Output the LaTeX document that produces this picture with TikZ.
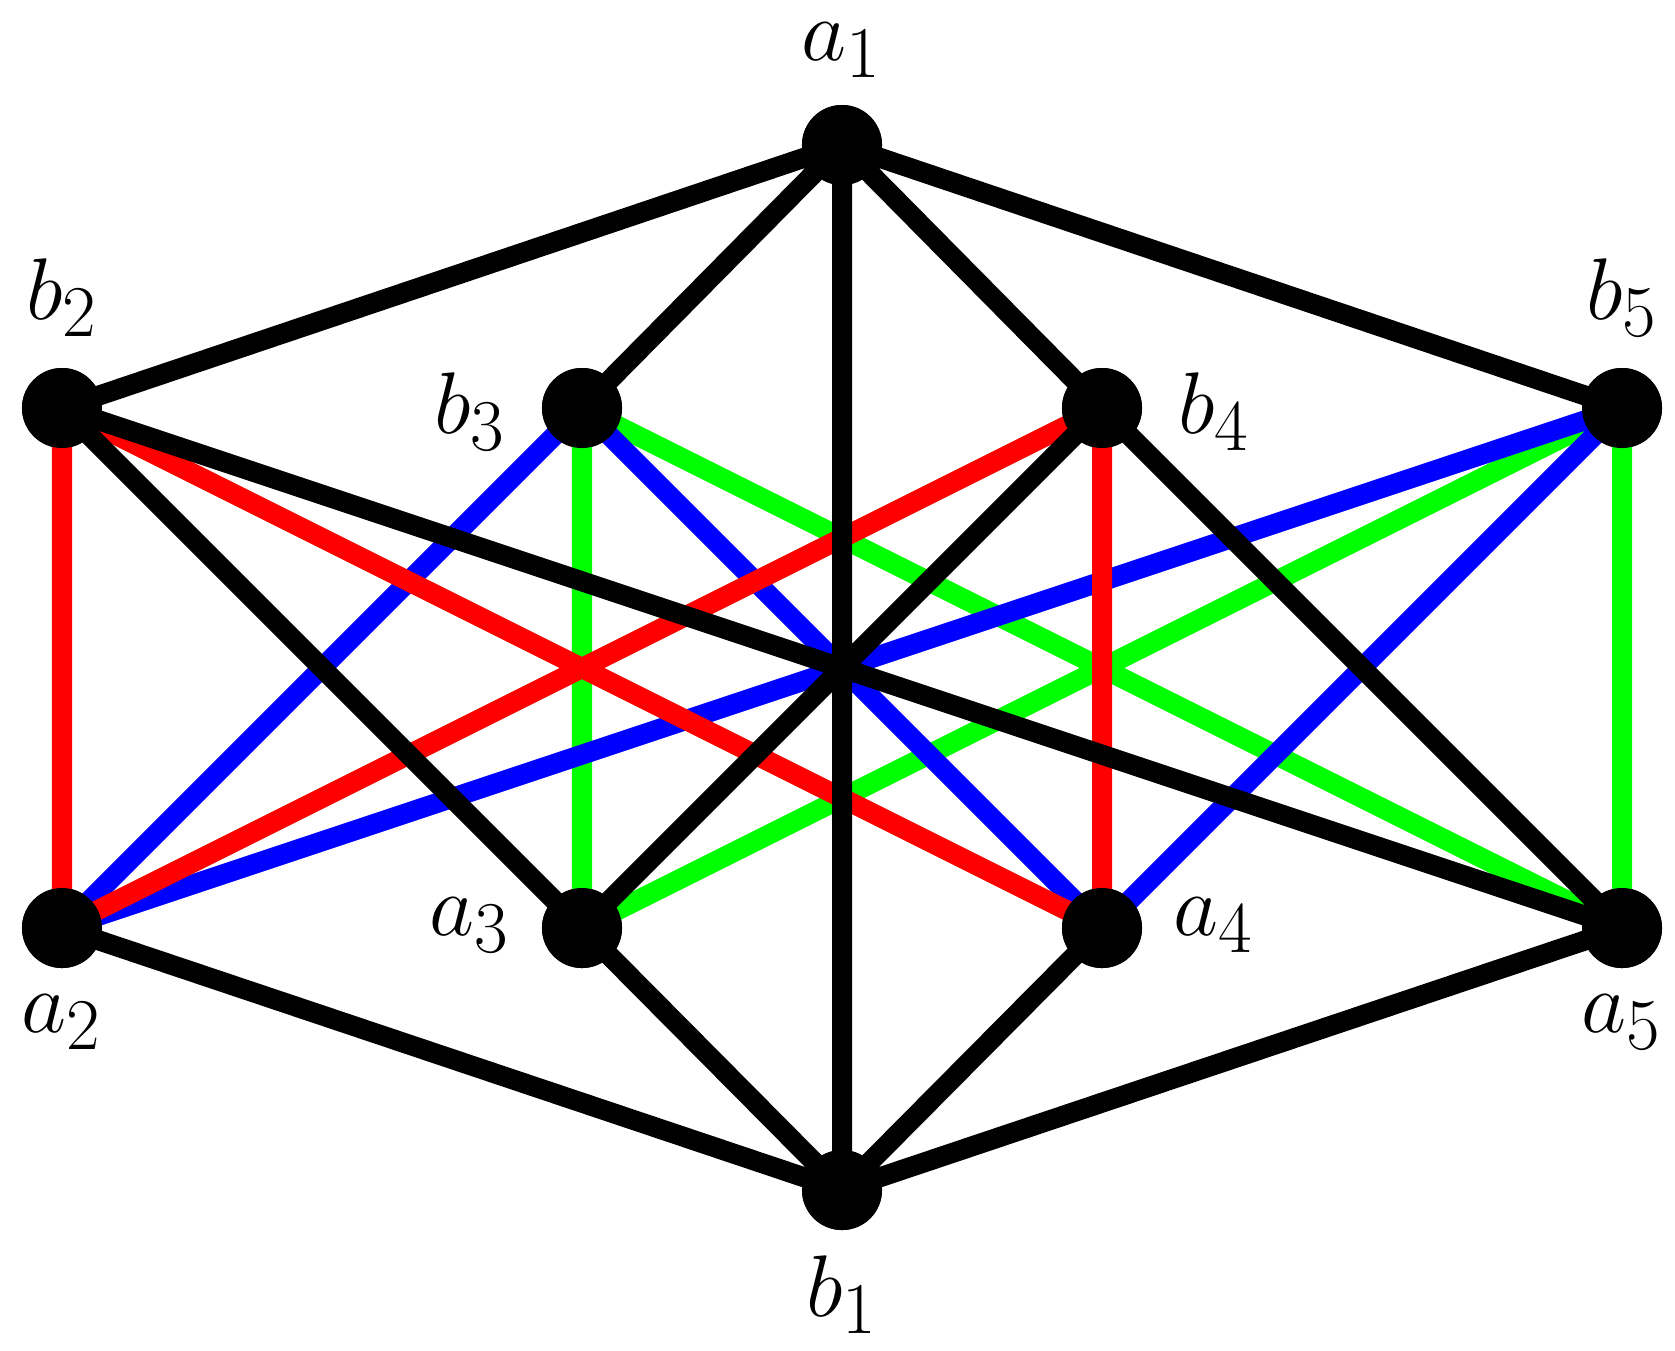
\documentclass[tikz,border=0pt]{standalone}
\begin{document}
\begin{tikzpicture}[x=0.01cm,y=-0.01cm,
  vtx/.style={circle,fill=black,minimum size=0.8cm,inner sep=0pt},
  lbl/.style={font=\fontsize{30}{36}\selectfont},
  edge/.style={line width=0.2cm}]
\useasboundingbox (0,0) rectangle (1675,1350);
\node[vtx] (a1) at (842,145) {};
\node[vtx] (b2) at (62,408) {};
\node[vtx] (b3) at (582,408) {};
\node[vtx] (b4) at (1102,408) {};
\node[vtx] (b5) at (1622,408) {};
\node[vtx] (a2) at (62,928) {};
\node[vtx] (a3) at (582,928) {};
\node[vtx] (a4) at (1102,928) {};
\node[vtx] (a5) at (1622,928) {};
\node[vtx] (b1) at (842,1190) {};
\node[lbl] (la1) at (842,50) {$a_1$};
\node[lbl] (lb2) at (62,298) {$b_2$};
\node[lbl] (lb3) at (470,412) {$b_3$};
\node[lbl] (lb4) at (1214,412) {$b_4$};
\node[lbl] (lb5) at (1622,298) {$b_5$};
\node[lbl] (la2) at (62,1022) {$a_2$};
\node[lbl] (la3) at (470,925) {$a_3$};
\node[lbl] (la4) at (1214,925) {$a_4$};
\node[lbl] (la5) at (1622,1022) {$a_5$};
\node[lbl] (lb1) at (842,1295) {$b_1$};
\begin{scope}[edge]
\draw[green] (b3.center)--(a3.center) (b3.center)--(a5.center) (b5.center)--(a3.center) (b5.center)--(a5.center);
\draw[blue] (b3.center)--(a2.center) (b3.center)--(a4.center) (b5.center)--(a2.center) (b5.center)--(a4.center);
\draw[red] (b2.center)--(a2.center) (b2.center)--(a4.center) (b4.center)--(a2.center) (b4.center)--(a4.center);
\draw[black] (a1.center)--(b2.center) (a1.center)--(b3.center) (a1.center)--(b1.center) (a1.center)--(b4.center) (a1.center)--(b5.center)
 (b2.center)--(a3.center) (b2.center)--(a5.center) (b4.center)--(a3.center) (b4.center)--(a5.center)
 (a2.center)--(b1.center) (a3.center)--(b1.center) (a4.center)--(b1.center) (a5.center)--(b1.center);
\end{scope}
\foreach \n in {a1,b2,b3,b4,b5,a2,a3,a4,a5,b1} \node[vtx] at (\n) {};
\end{tikzpicture}
\end{document}
